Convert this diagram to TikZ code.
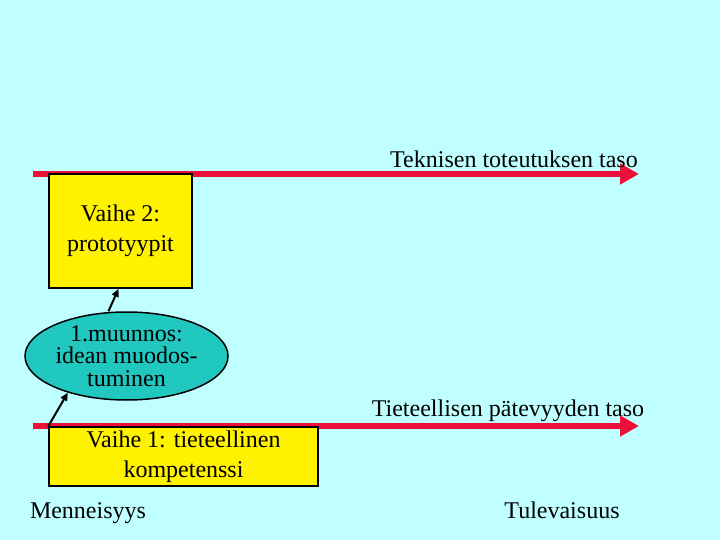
\documentclass[tikz,border=0pt]{standalone}
\usepackage{fontspec}
\setmainfont{Liberation Serif}
\usetikzlibrary{shapes.geometric, arrows.meta, positioning}
\definecolor{bgcyan}{RGB}{192,255,255}
\definecolor{levelred}{RGB}{236,16,56}
\definecolor{blobteal}{RGB}{32,200,192}
\tikzset{
  box/.style={rectangle, draw=black, line width=1.5pt, fill=yellow,
              align=center, inner sep=0pt},
  blob/.style={ellipse, draw=black, line width=1.5pt, fill=blobteal,
               minimum width=203pt, minimum height=88pt, inner sep=0pt},
  level/.style={-{Triangle[length=19pt, width=20pt]}, line width=6pt,
                draw=levelred},
  link/.style={-{Triangle[length=8pt, width=7pt]}, line width=2pt},
  lbl/.style={anchor=base, inner sep=0pt},
}

\begin{document}
\begin{tikzpicture}[x=1pt, y=-1pt, font=\fontsize{24}{30}\selectfont]

  \fill[bgcyan] (0,0) rectangle (720,540);
  \useasboundingbox (0,0) rectangle (720,540);

  % the two levels
  \coordinate (techL) at (33,174);
  \coordinate (techR) at (639,174);
  \coordinate (sciL)  at (33,426);
  \coordinate (sciR)  at (639,426);
  \draw[level] (techL) -- (techR);
  \draw[level] (sciL) -- (sciR);

  \node[lbl] (techlbl) at (514,168) {Teknisen toteutuksen taso};
  \node[lbl] (scilbl)  at (508,416) {Tieteellisen pätevyyden taso};

  % phases
  \node[box, minimum width=143pt, minimum height=114pt] (proto) at (120.5,231)
    {Vaihe 2:\\prototyypit};
  \node[box, minimum width=269pt, minimum height=59pt] (compet) at (183.5,456.5)
    {Vaihe 1: tieteellinen\\kompetenssi};
  \node[blob] (idea) at (126.5,356) {};
  \node[align=center, inner sep=0pt,
        font=\fontsize{24}{22.5}\selectfont] (ideatext) at (idea)
    {1.muunnos:\\idean muodos-\\tuminen};

  \draw[link] (compet.north west) -- (idea.212);
  \draw[link] ([xshift=-18pt]idea.north) -- ([xshift=-2pt]proto.south);

  % time axis
  \node[lbl] (past)   at (88,518)  {Menneisyys};
  \node[lbl] (future) at (562,518) {Tulevaisuus};

\end{tikzpicture}
\end{document}
